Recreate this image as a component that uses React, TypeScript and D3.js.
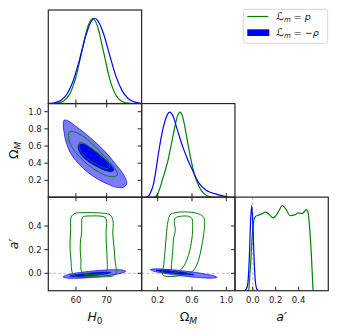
import React from 'react';
import * as d3 from 'd3';

// ---------- data ----------
const H0_TICKS = [60, 70];
const OM_TICKS_Y = [0.2, 0.4, 0.6, 0.8, 1.0];
const OM_TICKS_X = [0.2, 0.6, 1.0];
const AP_TICKS = [0.0, 0.2, 0.4];

// 1D marginals
const H0_GRID_BLUE = [51, 53, 55, 57, 59, 61, 63, 65, 66.1, 67, 69, 71, 73, 75, 77, 79, 81];
const H0_PDF_BLUE = [0.002, 0.01, 0.036, 0.107, 0.256, 0.494, 0.771, 0.968, 1, 0.981, 0.82, 0.567, 0.325, 0.155, 0.06, 0.02, 0.005];
const H0_GRID_GREEN = [52, 54, 56, 58, 60, 62, 64, 65.5, 67, 69, 71, 73, 75, 77, 79];
const H0_PDF_GREEN = [0.001, 0.006, 0.031, 0.114, 0.311, 0.623, 0.917, 1, 0.912, 0.607, 0.291, 0.101, 0.025, 0.005, 0.001];

const OM_GRID_BLUE = [0.06, 0.09, 0.12, 0.15, 0.18, 0.21, 0.24, 0.27, 0.30, 0.34, 0.38, 0.42, 0.46, 0.50, 0.55, 0.60, 0.65, 0.70, 0.76, 0.82, 0.90, 0.97, 1.02];
const OM_PDF_BLUE = [0, 0.01, 0.06, 0.15, 0.32, 0.52, 0.7, 0.84, 0.94, 1.0, 0.95, 0.82, 0.69, 0.57, 0.44, 0.33, 0.22, 0.14, 0.085, 0.055, 0.03, 0.012, 0];
const OM_GRID_GREEN = [0.17, 0.2, 0.23, 0.26, 0.29, 0.317, 0.355, 0.394, 0.43, 0.46, 0.49, 0.518, 0.557, 0.597, 0.625, 0.655, 0.69, 0.73, 0.78, 0.83];
const OM_PDF_GREEN = [0, 0.04, 0.12, 0.22, 0.32, 0.42, 0.6, 0.8, 0.95, 1.0, 0.95, 0.82, 0.6, 0.4, 0.28, 0.19, 0.11, 0.05, 0.015, 0];

const AP_GRID_BLUE = [-0.07, -0.05, -0.04, -0.03, -0.02, -0.01, 0, 0.01, 0.02, 0.03, 0.045];
const AP_PDF_BLUE = [0, 0.04, 0.14, 0.41, 0.8, 1.0, 0.8, 0.41, 0.14, 0.04, 0];
const AP_GRID_GREEN = [-0.035, -0.02, -0.005, 0.01, 0.025, 0.048, 0.077, 0.112, 0.135, 0.178, 0.222, 0.257, 0.295, 0.323, 0.367, 0.396, 0.43, 0.469, 0.483, 0.497, 0.512, 0.526];
const AP_PDF_GREEN = [0, 0.3, 0.65, 0.83, 0.875, 0.887, 0.903, 0.923, 0.907, 0.856, 0.923, 1.0, 0.946, 0.883, 0.891, 0.915, 0.907, 0.954, 0.915, 0.718, 0.4, 0];

// 2D contours (H0, Omega_M)
const HO_BLUE_95: [number, number][] = [
  [56.22, 0.903], [57.52, 0.892], [59.69, 0.837], [62.95, 0.748], [66.75, 0.631], [70.0, 0.515],
  [72.71, 0.398], [74.88, 0.301], [76.29, 0.211], [76.51, 0.157], [75.42, 0.118], [73.26, 0.118],
  [70.54, 0.153], [67.29, 0.211], [64.03, 0.289], [60.78, 0.398], [58.28, 0.515], [56.76, 0.65],
  [56.11, 0.767], [55.89, 0.857],
];
const HO_BLUE_68: [number, number][] = [
  [60.99, 0.619], [62.4, 0.623], [64.57, 0.584], [67.29, 0.515], [69.78, 0.437], [71.63, 0.367],
  [72.39, 0.32], [71.63, 0.301], [69.78, 0.312], [67.29, 0.351], [64.57, 0.406], [62.4, 0.468],
  [61.1, 0.534], [60.67, 0.584],
];
const HO_GREEN_95: [number, number][] = [
  [57.74, 0.759], [59.15, 0.767], [61.32, 0.736], [64.57, 0.65], [67.83, 0.534], [70.87, 0.417],
  [73.04, 0.32], [73.47, 0.262], [72.17, 0.242], [70.0, 0.254], [67.29, 0.301], [64.03, 0.378],
  [61.1, 0.476], [58.93, 0.573], [57.74, 0.67],
];
const HO_GREEN_68: [number, number][] = [
  [61.1, 0.639], [62.62, 0.631], [65.12, 0.573], [67.83, 0.495], [70.0, 0.425], [71.08, 0.367],
  [70.54, 0.34], [68.91, 0.347], [66.75, 0.386], [64.03, 0.445], [62.19, 0.507], [61.1, 0.573],
];

// 2D contours (H0, a')
const HA_BLUE_95: [number, number][] = [
  [55.8, -0.03], [57, -0.0145], [60, 0.0017], [64, 0.0158], [68, 0.0252], [72, 0.03], [75, 0.028],
  [76.2, 0.018], [75, 0.003], [72, -0.0134], [68, -0.0278], [64, -0.037], [60, -0.042], [57, -0.04],
];
const HA_BLUE_68: [number, number][] = [
  [58, -0.0248], [60, -0.0108], [63, -0.0005], [66.5, 0.0077], [69.5, 0.0115], [71.5, 0.0069],
  [69.5, -0.0071], [66.5, -0.0175], [63, -0.0257], [60, -0.0294],
];
const HA_GREEN_95: [number, number][] = [
  [58.61, 0.485], [59.69, 0.507], [62.4, 0.513], [67.83, 0.51], [70.8, 0.5], [71.63, 0.479],
  [72.17, 0.423], [72.0, 0.35], [72.17, 0.282], [72.5, 0.197], [72.71, 0.112], [73.04, 0.056],
  [73.1, 0.005], [72.2, -0.02], [68.5, -0.03], [64, -0.033], [60.5, -0.03], [59.2, -0.015],
  [58.61, 0.028], [58.39, 0.112], [58.1, 0.197], [58.1, 0.282], [58.28, 0.38], [58.28, 0.451],
];
const HA_GREEN_68: [number, number][] = [
  [62.4, 0.479], [65, 0.485], [68.5, 0.482], [69.6, 0.47], [70.0, 0.44], [69.8, 0.352],
  [69.9, 0.253], [70.1, 0.15], [70.22, 0.056], [70.0, 0.014], [68.5, -0.006], [65, -0.01],
  [62.5, -0.005], [61.7, 0.028], [61.64, 0.112], [61.4, 0.197], [61.5, 0.282], [61.86, 0.338],
  [61.86, 0.423], [62.0, 0.465],
];

// 2D contours (Omega_M, a')
const OA_BLUE_95: [number, number][] = [
  [0.114, 0.031], [0.15, 0.037], [0.25, 0.036], [0.35, 0.0315], [0.45, 0.0247], [0.55, 0.0163],
  [0.65, 0.0066], [0.75, -0.0051], [0.85, -0.0206], [0.892, -0.034], [0.85, -0.0405], [0.75, -0.0391],
  [0.65, -0.0342], [0.55, -0.0273], [0.45, -0.0189], [0.35, -0.0089], [0.25, 0.003], [0.15, 0.0187],
];
const OA_BLUE_68: [number, number][] = [
  [0.18, 0.0255], [0.25, 0.028], [0.35, 0.022], [0.45, 0.0136], [0.55, 0.0025], [0.62, -0.0114],
  [0.55, -0.0135], [0.45, -0.0078], [0.35, 0.0006], [0.25, 0.012],
];
const OA_GREEN_95: [number, number][] = [
  [0.347, 0.496], [0.406, 0.513], [0.561, 0.518], [0.678, 0.502], [0.736, 0.473], [0.748, 0.425],
  [0.736, 0.327], [0.709, 0.214], [0.678, 0.115], [0.639, 0.045], [0.58, 0.003], [0.483, -0.017],
  [0.308, -0.026], [0.258, -0.012], [0.27, 0.073], [0.289, 0.214], [0.301, 0.327], [0.32, 0.44],
];
const OA_GREEN_68: [number, number][] = [
  [0.406, 0.468], [0.561, 0.482], [0.6, 0.462], [0.608, 0.411], [0.6, 0.299], [0.561, 0.158],
  [0.503, 0.059], [0.445, 0.017], [0.367, 0.003], [0.359, 0.045], [0.375, 0.186], [0.386, 0.299],
  [0.406, 0.369], [0.394, 0.425],
];

// ---------- layout ----------
const L = 48.3, T = 10, PW = 93.33, PH = 93.57;
const colX = (i: number) => L + i * PW;
const rowY = (j: number) => T + j * PH;

const GREEN = '#008000';
const BLUE = '#0000ff';
const BLUE_LIGHT = '#7a7aff';
const FRAME = '#262626';
const FONT = 'DejaVu Sans';

const xH0 = d3.scaleLinear().domain([51, 81.4]).range([colX(0), colX(1)]);
const xOm = d3.scaleLinear().domain([0.0126, 1.101]).range([colX(1), colX(2)]);
const xAp = d3.scaleLinear().domain([-0.156, 0.659]).range([colX(2), colX(3)]);
const yOm = d3.scaleLinear().domain([0.004, 1.095]).range([rowY(2), rowY(1)]);
const yAp = d3.scaleLinear().domain([-0.147, 0.644]).range([rowY(3), rowY(2)]);
const yDens = (r: number) => d3.scaleLinear().domain([0, 1.1]).range([rowY(r + 1), rowY(r)]);

const zip = (a: number[], b: number[]) => a.map((v, i) => [v, b[i]] as [number, number]);

function curve1D(pts: [number, number][], sx: any, sy: any) {
  return d3.line<[number, number]>().x(d => sx(d[0])).y(d => sy(d[1])).curve(d3.curveMonotoneX)(pts) || '';
}
function closed(pts: [number, number][], sx: any, sy: any) {
  return d3.line<[number, number]>().x(d => sx(d[0])).y(d => sy(d[1])).curve(d3.curveCatmullRomClosed.alpha(0.5))(pts) || '';
}

const fmt = (v: number) => v.toFixed(1);

function Panel2D({ id, c, r, sx, sy, b95, b68, g95, g68, zeroLine }: any) {
  const x = colX(c), y = rowY(r);
  return (
    <g>
      <clipPath id={id}><rect x={x} y={y} width={PW} height={PH} /></clipPath>
      <g clipPath={`url(#${id})`}>
        {zeroLine && (
          <line x1={x} x2={x + PW} y1={sy(0)} y2={sy(0)} stroke="#aaa" strokeWidth={0.8} strokeDasharray="3,2" />
        )}
        <path d={closed(b95, sx, sy)} fill={BLUE_LIGHT} stroke={BLUE} strokeWidth={0.7} />
        <path d={closed(b68, sx, sy)} fill={BLUE} stroke={BLUE} strokeWidth={0.5} />
        <path d={closed(g95, sx, sy)} fill="none" stroke={GREEN} strokeWidth={1} />
        <path d={closed(g68, sx, sy)} fill="none" stroke={GREEN} strokeWidth={1} />
      </g>
    </g>
  );
}

function Panel1D({ id, c, r, sx, blue, green, vline }: any) {
  const x = colX(c), y = rowY(r);
  const sy = yDens(r);
  return (
    <g>
      <clipPath id={id}><rect x={x} y={y} width={PW} height={PH} /></clipPath>
      <g clipPath={`url(#${id})`}>
        {vline && (
          <line x1={sx(0)} x2={sx(0)} y1={y} y2={y + PH} stroke="#aaa" strokeWidth={0.8} strokeDasharray="3,2" />
        )}
        <path d={curve1D(green, sx, sy)} fill="none" stroke={GREEN} strokeWidth={1.2} />
        <path d={curve1D(blue, sx, sy)} fill="none" stroke={BLUE} strokeWidth={1.2} />
      </g>
    </g>
  );
}

const TL = 4; // tick length

function XTicks({ sx, ticks, y, dir }: any) {
  return <g>{ticks.map((t: number) => (
    <line key={t} x1={sx(t)} x2={sx(t)} y1={y} y2={y + dir * TL} stroke={FRAME} strokeWidth={1} />
  ))}</g>;
}
function YTicks({ sy, ticks, x, dir }: any) {
  return <g>{ticks.map((t: number) => (
    <line key={t} x1={x} x2={x + dir * TL} y1={sy(t)} y2={sy(t)} stroke={FRAME} strokeWidth={1} />
  ))}</g>;
}

function Frame({ c, r }: any) {
  return <rect x={colX(c)} y={rowY(r)} width={PW} height={PH} fill="none" stroke={FRAME} strokeWidth={1.2} />;
}

export default function App() {
  const bottom = rowY(3);
  const labelY = 302.5;
  return (
    <svg width={338} height={336} style={{ position: 'absolute', left: 0, top: 0, background: '#fff' }} fontFamily={FONT}>
      <rect x={0} y={0} width={338} height={336} fill="#fff" />
      {/* 1D panels */}
      <Panel1D id="p00" c={0} r={0} sx={xH0} blue={zip(H0_GRID_BLUE, H0_PDF_BLUE)} green={zip(H0_GRID_GREEN, H0_PDF_GREEN)} />
      <Panel1D id="p11" c={1} r={1} sx={xOm} blue={zip(OM_GRID_BLUE, OM_PDF_BLUE)} green={zip(OM_GRID_GREEN, OM_PDF_GREEN)} />
      <Panel1D id="p22" c={2} r={2} sx={xAp} blue={zip(AP_GRID_BLUE, AP_PDF_BLUE)} green={zip(AP_GRID_GREEN, AP_PDF_GREEN)} vline />
      {/* 2D panels */}
      <Panel2D id="p01" c={0} r={1} sx={xH0} sy={yOm} b95={HO_BLUE_95} b68={HO_BLUE_68} g95={HO_GREEN_95} g68={HO_GREEN_68} />
      <Panel2D id="p02" c={0} r={2} sx={xH0} sy={yAp} b95={HA_BLUE_95} b68={HA_BLUE_68} g95={HA_GREEN_95} g68={HA_GREEN_68} zeroLine />
      <Panel2D id="p12" c={1} r={2} sx={xOm} sy={yAp} b95={OA_BLUE_95} b68={OA_BLUE_68} g95={OA_GREEN_95} g68={OA_GREEN_68} zeroLine />

      {/* ticks */}
      <XTicks sx={xH0} ticks={H0_TICKS} y={rowY(1)} dir={-1} />
      <XTicks sx={xH0} ticks={H0_TICKS} y={rowY(1)} dir={1} />
      <XTicks sx={xH0} ticks={H0_TICKS} y={rowY(2)} dir={-1} />
      <XTicks sx={xH0} ticks={H0_TICKS} y={rowY(2)} dir={1} />
      <XTicks sx={xH0} ticks={H0_TICKS} y={bottom} dir={-1} />
      <XTicks sx={xOm} ticks={OM_TICKS_X} y={rowY(2)} dir={-1} />
      <XTicks sx={xOm} ticks={OM_TICKS_X} y={rowY(2)} dir={1} />
      <XTicks sx={xOm} ticks={OM_TICKS_X} y={bottom} dir={-1} />
      <XTicks sx={xAp} ticks={AP_TICKS} y={bottom} dir={-1} />
      <YTicks sy={yOm} ticks={OM_TICKS_Y} x={colX(0)} dir={-1} />
      <YTicks sy={yOm} ticks={OM_TICKS_Y} x={colX(1)} dir={-1} />
      <YTicks sy={yAp} ticks={AP_TICKS} x={colX(0)} dir={-1} />
      <YTicks sy={yAp} ticks={AP_TICKS} x={colX(1)} dir={-1} />
      <YTicks sy={yAp} ticks={AP_TICKS} x={colX(2)} dir={-1} />

      {/* frames */}
      <Frame c={0} r={0} /><Frame c={0} r={1} /><Frame c={0} r={2} />
      <Frame c={1} r={1} /><Frame c={1} r={2} /><Frame c={2} r={2} />

      {/* tick labels */}
      <g fontSize={8.5} fill="#222">
        {OM_TICKS_Y.map(t => <text key={'yo' + t} x={colX(0) - 6.6} y={yOm(t)} dy="0.35em" textAnchor="end">{fmt(t)}</text>)}
        {AP_TICKS.map(t => <text key={'ya' + t} x={colX(0) - 6.6} y={yAp(t)} dy="0.35em" textAnchor="end">{fmt(t)}</text>)}
        {H0_TICKS.map(t => <text key={'xh' + t} x={xH0(t)} y={labelY} textAnchor="middle">{t}</text>)}
        {OM_TICKS_X.map(t => <text key={'xo' + t} x={xOm(t)} y={labelY} textAnchor="middle">{fmt(t)}</text>)}
        {AP_TICKS.map(t => <text key={'xa' + t} x={xAp(t)} y={labelY} textAnchor="middle">{fmt(t)}</text>)}
      </g>

      {/* axis labels */}
      <g fontSize={12.5} fill="#111">
        <text x={colX(0) + PW / 2} y={321} textAnchor="middle">
          <tspan fontStyle="italic">H</tspan><tspan fontSize={9} dy={2.5}>0</tspan>
        </text>
        <text x={colX(1) + PW / 2} y={321} textAnchor="middle">
          <tspan>Ω</tspan><tspan fontSize={9} dy={2.5} fontStyle="italic">M</tspan>
        </text>
        <text x={colX(2) + PW / 2} y={321} textAnchor="middle">
          <tspan fontStyle="italic">a</tspan><tspan>′</tspan>
        </text>
        <text transform={`translate(18,${rowY(1) + PH / 2}) rotate(-90)`} textAnchor="middle">
          <tspan>Ω</tspan><tspan fontSize={9} dy={2.5} fontStyle="italic">M</tspan>
        </text>
        <text transform={`translate(18,${rowY(2) + PH / 2}) rotate(-90)`} textAnchor="middle">
          <tspan fontStyle="italic">a</tspan><tspan>′</tspan>
        </text>
      </g>

      {/* legend */}
      <g>
        <rect x={243.3} y={9.3} width={84.4} height={34} rx={2.5} fill="#fff" stroke="#cccccc" strokeWidth={0.8} />
        <line x1={247.3} x2={268.3} y1={16.5} y2={16.5} stroke={GREEN} strokeWidth={1.2} />
        <rect x={247.3} y={29.3} width={22} height={6.7} fill={BLUE} />
        <g fontSize={9.5} fill="#111">
          <text x={276} y={19.8}>
            <tspan fontSize={11}>ℒ</tspan><tspan fontSize={7} dy={2} fontStyle="italic">m</tspan><tspan dy={-2}> = </tspan><tspan fontStyle="italic">p</tspan>
          </text>
          <text x={276} y={36}>
            <tspan fontSize={11}>ℒ</tspan><tspan fontSize={7} dy={2} fontStyle="italic">m</tspan><tspan dy={-2}> = −</tspan><tspan fontStyle="italic">ρ</tspan>
          </text>
        </g>
      </g>
    </svg>
  );
}
